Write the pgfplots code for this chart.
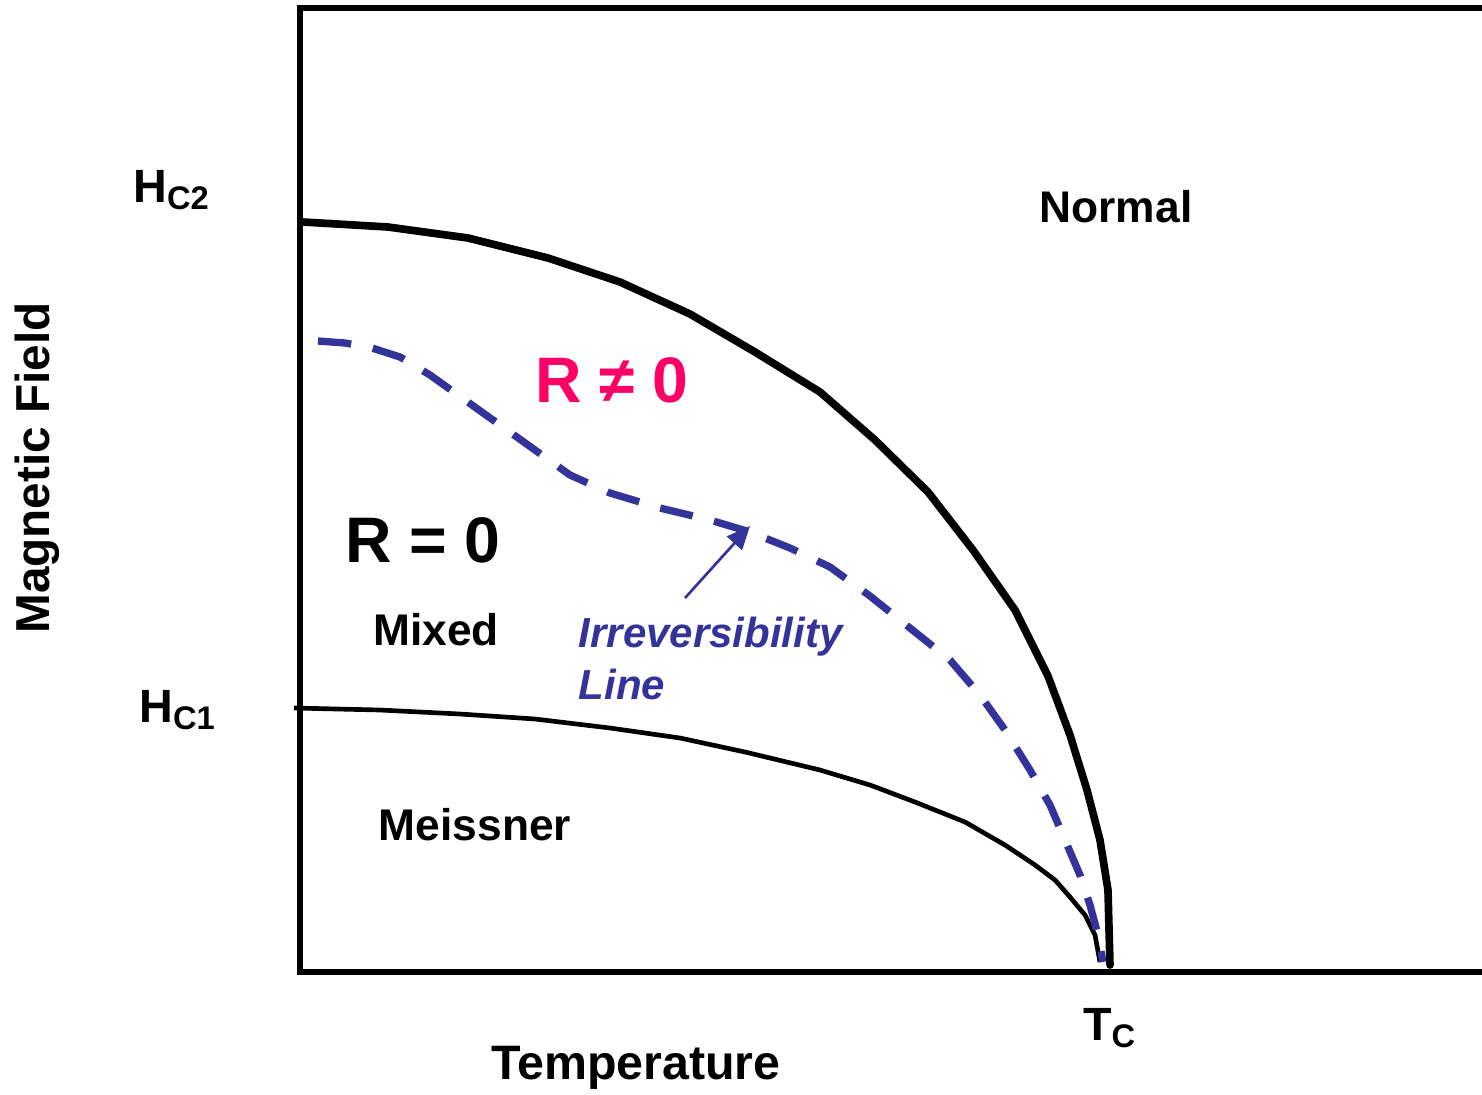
\documentclass[border=0pt]{standalone}
\usepackage{pgfplots}
\pgfplotsset{compat=1.18}
\usepackage{fontspec}
\setmainfont{Liberation Sans}
\usetikzlibrary{arrows.meta}
\definecolor{irrblue}{RGB}{51,51,153}
\definecolor{rpink}{RGB}{255,0,102}

% phase boundaries, x = temperature, y = field (arbitrary units)
\pgfplotstableread{
x y
3 750
88 745
168 734
248 714
320 690
390 658
455 620
520 580
575 532
628 480
673 422
715 362
748 296
770 237
787 182
800 132
808 82
810 7
}\hctwo
\pgfplotstableread{
x y
-6 264
80 262
160 258
235 253
310 244
380 234
445 220
520 202
570 187
615 170
665 150
705 127
735 107
755 92
770 75
785 57
795 37
800 10
}\hcone
\pgfplotstableread{
x y
18 631
45 629
72 624
100 615
130 597
165 572
200 547
235 522
270 497
310 479
360 464
410 452
450 440
490 424
530 405
570 376
610 344
650 312
680 277
705 242
730 202
750 167
765 132
780 97
790 67
798 37
803 10
}\irr

\begin{document}
\begin{tikzpicture}
\begin{axis}[
    scale only axis,
    width=354.6pt, height=289.2pt,
    xmin=0, xmax=1182, ymin=0, ymax=964,
    axis lines=none,
    ticks=none,
    clip=false,
    font=\bfseries,
]
% frame: left, top, bottom (no right edge)
\draw[line width=1.9pt] (rel axis cs:1,1) -- (rel axis cs:0,1) -- (rel axis cs:0,0) -- (rel axis cs:1,0);

\addplot[line width=2.3pt, black, line cap=round] table {\hctwo};
\addplot[line width=1.4pt, black] table {\hcone};
\addplot[line width=2.2pt, irrblue, dash pattern=on 10pt off 6.6pt] table {\irr};

\draw[irrblue, line width=0.8pt, -{Triangle[length=7pt,width=6pt]}] (axis cs:385,374) -- (axis cs:450,446);

\node[font=\fontsize{14.3}{16}\bfseries\selectfont, rotate=90] at (axis cs:-263,504) {Magnetic Field};
\node[font=\fontsize{14.5}{16}\bfseries\selectfont] at (axis cs:336,-96) {Temperature};
\node[font=\fontsize{14}{16}\bfseries\selectfont] at (axis cs:-128,782) {H\textsubscript{C2}};
\node[font=\fontsize{14}{16}\bfseries\selectfont] at (axis cs:-122,262) {H\textsubscript{C1}};
\node[font=\fontsize{14}{16}\bfseries\selectfont] at (axis cs:810,-56) {T\textsubscript{C}};
\node[font=\fontsize{13.3}{16}\bfseries\selectfont] at (axis cs:816,765) {Normal};
\node[font=\fontsize{19.3}{22}\bfseries\selectfont, text=rpink] at (axis cs:312,592) {R ≠ 0};
\node[font=\fontsize{19.3}{22}\bfseries\selectfont] at (axis cs:123,432) {R = 0};
\node[font=\fontsize{13.3}{16}\bfseries\selectfont] at (axis cs:136,342) {Mixed};
\node[font=\fontsize{13.3}{16}\bfseries\selectfont] at (axis cs:175,147) {Meissner};
\node[font=\fontsize{12.6}{15.6}\bfseries\itshape\selectfont, text=irrblue, anchor=west, align=left] at (axis cs:267,314) {Irreversibility\\Line};

\coordinate (bl) at (axis cs:-300,-122);
\coordinate (tr) at (axis cs:1182,972);
\end{axis}
\pgfresetboundingbox
\path[use as bounding box] (bl) rectangle (tr);
\end{tikzpicture}
\end{document}
